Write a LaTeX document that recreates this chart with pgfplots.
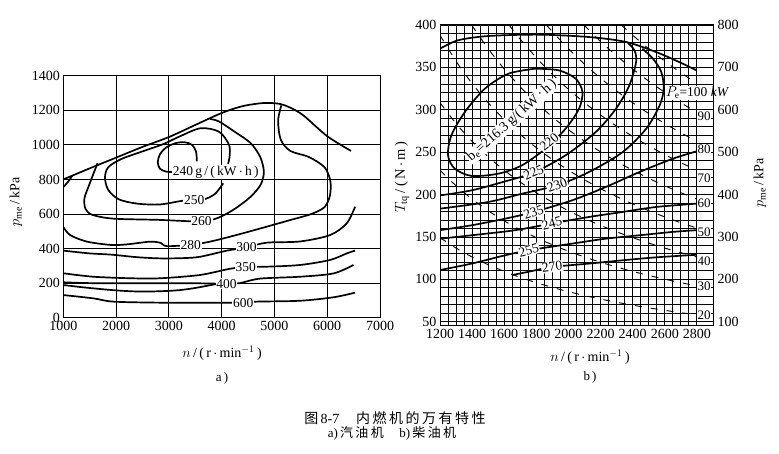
\documentclass[border=0pt]{standalone}
\usepackage{pgfplots}
\pgfplotsset{compat=1.18}
\usepackage{fontspec}
\setmainfont{Liberation Serif}
\newfontfamily\cjk[LetterSpace=18]{Noto Sans CJK SC}
\tikzset{lab/.style={fill=white, inner sep=0.8pt, font=\fontsize{13.5}{13.5}\selectfont},
  plab/.style={fill=white, inner sep=0.6pt, font=\fontsize{13}{13}\selectfont}}
\begin{document}
\begin{tikzpicture}[x=1pt,y=1pt]
\path[use as bounding box] (0,0) rectangle (779,453);
\pgfplotsset{
  every axis/.append style={
    scale only axis, anchor=south west,
    tick style={draw=none},
    /pgf/number format/assume math mode=true,
    /pgf/number format/set thousands separator={},
    ticklabel style={font=\fontsize{14}{14}\selectfont},
    clip mode=individual,
  },
  cont/.style={black, line width=1.7pt, smooth, mark=none},
  pw/.style={black, line width=0.9pt, dash pattern=on 7pt off 9pt, smooth, mark=none},
}
% ---------------- (a) ----------------
\begin{axis}[at={(63.3pt,135.3pt)}, width=316.7pt, height=242pt,
  xmin=1000, xmax=7000, ymin=0, ymax=1400,
  xtick={1000,2000,...,7000}, ytick={0,200,...,1400},
  grid=major, major grid style={black, line width=0.8pt},
  axis line style={black, line width=0.9pt},
]
\addplot[cont] coordinates {(1000,800) (1500,864) (2000,926) (2500,988) (3000,1045) (3500,1115) (4000,1184) (4400,1224) (4800,1242) (5100,1237) (5300,1215) (5550,1170) (6000,1050) (6450,965)};
\addplot[cont] coordinates {(1000,755) (1100,790) (1170,822)};
% 240
\addplot[cont] coordinates {(3530,905) (3515,960) (3440,1000) (3300,1015) (3130,1010) (2950,985) (2830,945) (2790,900) (2830,862) (2950,845) (3100,843)};
% 250
\addplot[cont] coordinates {(4030,777) (3880,718) (3700,688) (3480,678) (3250,676) (2830,655) (2400,660) (2050,685) (1850,740) (1790,810) (1850,870) (2100,918) (2500,962) (2900,1005) (3200,1048) (3600,1096) (3950,1076) (4140,1000) (4150,930) (4120,890)};
% 260
\addplot[cont] coordinates {(1650,895) (1580,840) (1480,760) (1400,690) (1420,630) (1550,595) (1950,573) (2800,566) (3620,557) (3950,580) (4250,630) (4550,700) (4740,770) (4800,845) (4730,930) (4550,1010) (4250,1075) (3950,1135) (3780,1150)};
% 280
\addplot[cont] coordinates {(1000,525) (1130,478) (1450,440) (1900,421) (2200,424) (2650,440) (2850,432) (2960,414) (3415,422) (3780,440) (4300,480) (4800,522) (5300,565) (5700,600) (5950,640) (6050,705) (6060,790) (5950,870) (5650,930) (5300,965) (5120,1030) (5070,1140) (5130,1228)};
% 300
\addplot[cont] coordinates {(1000,388) (1500,372) (1900,365) (2400,350) (2850,343) (3300,345) (3600,353) (4100,388) (4470,407) (4853,434) (5485,441) (6054,478) (6370,546) (6528,642)};
% 350
\addplot[cont] coordinates {(1000,257) (1568,237) (2300,228) (2830,228) (3587,247) (4155,283) (4455,293) (4853,295) (5485,305) (6054,334) (6370,372) (6528,388)};
% 400 (wedge)
\addplot[cont] coordinates {(1000,205) (1500,200) (2500,199) (3500,199) (3900,197)};
\addplot[cont] coordinates {(1000,189) (1400,175) (2000,158) (2515,151) (3100,157) (3461,170) (3900,195)};
\addplot[cont] coordinates {(4093,197) (4345,200) (4723,226) (5485,237) (6117,256) (6496,305)};
% 600
\addplot[cont] coordinates {(1000,131) (1568,112) (1947,93) (2830,87) (3800,87) (4408,87) (4664,93) (5485,98) (6117,118) (6528,145)};
\node[lab] at (axis cs:3890,843) {240\,g\,/\,(\,kW\,$\cdot$\,h\,)};
\node[lab] at (axis cs:3480,678) {250};
\node[lab] at (axis cs:3620,557) {260};
\node[lab] at (axis cs:3415,422) {280};
\node[lab] at (axis cs:4470,407) {300};
\node[lab] at (axis cs:4455,293) {350};
\node[lab] at (axis cs:4093,197) {400};
\node[lab] at (axis cs:4408,87) {600};
\end{axis}
% ---------------- (b) ----------------
\begin{axis}[at={(440pt,127pt)}, width=273pt, height=301pt,
  xmin=1200, xmax=2900, ymin=45, ymax=400,
  xtick={1200,1400,...,2800}, ytick={50,100,...,400},
  minor x tick num=3, minor y tick num=4,
  grid=both, major grid style={black, line width=0.9pt}, minor grid style={black, line width=0.9pt},
  axis line style={black, line width=1pt},
]
% power lines
\addplot[pw] coordinates {(1200,149.2) (1300,136.9) (1400,126.4) (1500,117.3) (1600,109.4) (1700,102.3) (1800,96.1) (1900,90.5) (2000,85.5) (2100,80.9) (2200,76.8) (2300,73.0) (2400,69.6) (2500,66.4) (2600,63.5) (2700,60.7) (2800,58.2)};
\addplot[pw] coordinates {(1200,228.7) (1300,210.4) (1400,194.6) (1500,181.0) (1600,169.0) (1700,158.5) (1800,149.2) (1900,140.8) (2000,133.2) (2100,126.4) (2200,120.2) (2300,114.6) (2400,109.4) (2500,104.6) (2600,100.2) (2700,96.1) (2800,92.3)};
\addplot[pw] coordinates {(1200,308.3) (1300,283.8) (1400,262.8) (1500,244.6) (1600,228.7) (1700,214.7) (1800,202.2) (1900,191.0) (2000,181.0) (2100,171.9) (2200,163.6) (2300,156.1) (2400,149.2) (2500,142.8) (2600,136.9) (2700,131.5) (2800,126.4)};
\addplot[pw] coordinates {(1200,387.9) (1300,357.3) (1400,331.0) (1500,308.3) (1600,288.4) (1700,270.9) (1800,255.3) (1900,241.3) (2000,228.7) (2100,217.4) (2200,207.0) (2300,197.6) (2400,188.9) (2500,181.0) (2600,173.6) (2700,166.8) (2800,160.5)};
\addplot[pw] coordinates {(1397,400) (1500,372.0) (1600,348.1) (1700,327.0) (1800,308.3) (1900,291.5) (2000,276.5) (2100,262.8) (2200,250.4) (2300,239.1) (2400,228.7) (2500,219.2) (2600,210.4) (2700,202.2) (2800,194.6)};
\addplot[pw] coordinates {(1630,400) (1700,383.2) (1800,361.4) (1900,341.8) (2000,324.2) (2100,308.3) (2200,293.8) (2300,280.6) (2400,268.5) (2500,257.4) (2600,247.1) (2700,237.6) (2800,228.7)};
\addplot[pw] coordinates {(1863,400) (1900,392.1) (2000,372.0) (2100,353.8) (2200,337.2) (2300,322.1) (2400,308.3) (2500,295.6) (2600,283.8) (2700,272.9) (2800,262.8)};
\addplot[pw] coordinates {(2096,400) (2200,380.6) (2300,363.7) (2400,348.1) (2500,333.8) (2600,320.5) (2700,308.3) (2800,296.9)};
\addplot[pw] coordinates {(2329,400) (2400,387.9) (2500,372.0) (2600,357.3) (2700,343.7) (2800,331.0)};
% b_e contours
\addplot[cont] coordinates {(1794,348.5) (1940,346.5) (2045,336.7) (2087,321) (2066,301.3) (1982,277.7) (1857,254.2) (1710,234.5) (1564,224.7) (1397,222) (1292,230.6) (1250,246.3) (1271,269.9) (1355,297.4) (1480,325) (1627,342.6) (1794,348.5)};
\addplot[cont] coordinates {(1200,372) (1313,382) (1501,387) (1815,388.6) (2128,385.8) (2358,380) (2547,368) (2693,356) (2798,346.5)};
\addplot[cont] coordinates {(1200,199) (1397,205) (1606,215.6) (1783,226) (1982,246.3) (2170,273.8) (2296,301.3) (2379,328.8) (2421,356.3) (2411,370) (2370,379)};
\addplot[cont] coordinates {(1200,183.4) (1501,191.3) (1710,201) (1930,211) (2128,226.6) (2338,250.2) (2484,277.7) (2568,305.3) (2593,325) (2578,344.6) (2526,360.3) (2460,372)};
\addplot[cont] coordinates {(1200,158) (1397,163.8) (1606,171.6) (1783,179.5) (2024,193.3) (2233,209) (2442,226.6) (2651,242.4) (2798,251)};
\addplot[cont] coordinates {(1200,148) (1397,152) (1668,158) (1898,166) (2128,173.6) (2338,179.5) (2547,185.4) (2798,189.3)};
\addplot[cont] coordinates {(1200,111) (1397,118.6) (1606,128.4) (1752,134.3) (2024,142.2) (2233,148) (2442,152) (2651,156) (2798,158)};
\addplot[cont] coordinates {(1647,105) (1752,109) (1898,114.6) (2128,118.6) (2338,122.5) (2547,126) (2798,129)};
\node[lab, rotate=42, font=\fontsize{14}{14}\selectfont] at (axis cs:1648,287) {b\textsubscript{e}=216.3\,g/(\,kW\,·\,h\,)};
\node[lab, rotate=40] at (axis cs:1880,262) {220};
\node[lab, rotate=24] at (axis cs:1783,226) {225};
\node[lab, rotate=20] at (axis cs:1930,211) {230};
\node[lab, rotate=18] at (axis cs:1783,179.5) {235};
\node[lab, rotate=15] at (axis cs:1898,166) {245};
\node[lab, rotate=15] at (axis cs:1752,134.3) {255};
\node[lab, rotate=8] at (axis cs:1898,114.6) {270};
\node[plab] at (axis cs:2845,58) {20};
\node[plab] at (axis cs:2845,92) {30};
\node[plab] at (axis cs:2845,121) {40};
\node[plab] at (axis cs:2845,156) {50};
\node[plab] at (axis cs:2845,190) {60};
\node[plab] at (axis cs:2845,219) {70};
\node[plab] at (axis cs:2845,254) {80};
\node[plab] at (axis cs:2845,292) {90};
\node[lab, anchor=west] at (axis cs:2600,320) {$P_{\mathrm{e}}$=100 \textit{kW}};
\end{axis}
\begin{axis}[at={(440pt,127pt)}, width=273pt, height=301pt,
  xmin=1200, xmax=2900, ymin=90, ymax=800,
  axis y line*=right, axis x line=none,
  ytick={100,200,...,800}, yticklabel style={xshift=1pt},
  axis line style={black, line width=1pt},
]
\addplot[draw=none] coordinates {(1200,100)};
\end{axis}
% labels
\node[rotate=90, font=\fontsize{14}{14}\selectfont] at (16,251) {$p_{\mathrm{me}}$\,/\,kPa};
\node[font=\fontsize{14}{14}\selectfont] at (222,100) {$n$\,/\,(\,r\,$\cdot$\,min$^{-1}$\,)};
\node[font=\fontsize{13}{13}\selectfont] at (222,75) {a\,)};
\node[rotate=90, font=\fontsize{14.5}{14.5}\selectfont] at (402,276) {$T_{\mathrm{tq}}$\,/\,(\,N\,$\cdot$\,m\,)};
\node[rotate=90, font=\fontsize{14}{14}\selectfont] at (760,270) {$p_{\mathrm{me}}$\,/\,kPa};
\node[font=\fontsize{14}{14}\selectfont] at (590,96) {$n$\,/\,(\,r\,$\cdot$\,min$^{-1}$\,)};
\node[font=\fontsize{13}{13}\selectfont] at (590,76) {b\,)};
\node[font=\fontsize{14}{14}\selectfont] at (395,35) {{\cjk 图}\,8-7\hspace{1.2em}{\cjk 内燃机的万有特性}};
\node[font=\fontsize{13}{13}\selectfont] at (392,20) {a)\,{\cjk 汽油机}\hspace{1.2em}b)\,{\cjk 柴油机}};
\end{tikzpicture}
\end{document}
